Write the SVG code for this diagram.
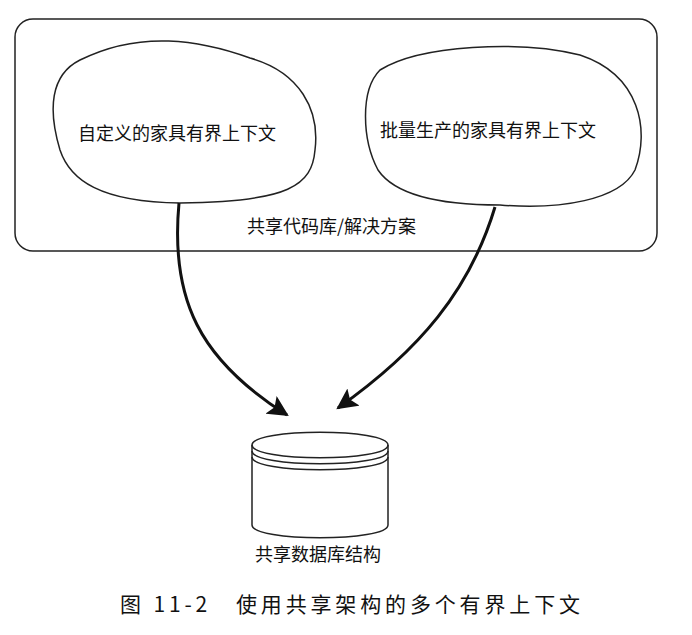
<svg xmlns="http://www.w3.org/2000/svg" width="692" height="635" viewBox="0 0 692 635">
<defs>
<style>
.o{fill:none;stroke:#222;stroke-width:1.5}
.t{font-family:"Noto Sans CJK SC",sans-serif;font-size:18px;fill:#111}
.c{stroke:#111;stroke-width:3;fill:none}
</style>
<marker id="a" viewBox="0 0 10 10" refX="9" refY="5" markerWidth="7" markerHeight="7" orient="auto-start-reverse" markerUnits="strokeWidth"><path d="M0,0L10,5L0,10L2,5z" fill="#111"/></marker>
</defs>
<rect x="0" y="0" width="692" height="635" fill="#fff"/>
<g id="container"><rect class="o" x="15" y="19" width="642" height="232" rx="18"/><text class="t" x="247" y="233">共享代码库/解决方案</text></g>
<g id="ctx1"><path class="o" d="M80,60 C140,30 200,40 250,58 C300,72 320,110 315,150 C312,185 290,202 180,203 C100,202 70,180 60,150 C48,110 50,75 80,60Z"/><text class="t" x="78" y="140">自定义的家具有界上下文</text></g>
<g id="ctx2"><path class="o" d="M380,70 C420,45 520,40 580,55 C640,75 650,130 635,170 C620,200 560,210 500,205 C440,205 395,195 378,170 C362,140 360,90 380,70Z"/><text class="t" x="380" y="137">批量生产的家具有界上下文</text></g>
<g id="db"><path class="o" d="M252,445 C252,428 388,428 388,445 L388,525 C388,542 252,542 252,525Z"/><path class="o" d="M252,445 C252,462 388,462 388,445 M252,451 C252,468 388,468 388,451 M252,457 C252,474 388,474 388,457"/><text class="t" x="255" y="561">共享数据库结构</text></g>
<g id="connectors"><path class="c" marker-end="url(#a)" d="M179,203 C170,300 200,360 287,415"/><path class="c" marker-end="url(#a)" d="M495,207 C470,290 420,350 338,408"/></g>
<text class="t" x="120" y="612" style="font-size:21px" textLength="460" lengthAdjust="spacing">图 11-2　使用共享架构的多个有界上下文</text>
</svg>
